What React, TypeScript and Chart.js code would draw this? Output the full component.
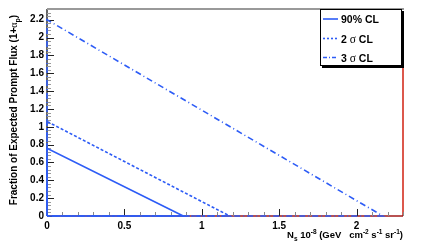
import React, { useEffect, useRef } from 'react';
import { Chart, registerables } from 'chart.js';
Chart.register(...registerables);

// ---- data ----
const seriesLabels = ['90% CL', '2 σ CL', '3 σ CL'];
const yIntercepts = [0.76, 1.06, 2.2]; // value at Ns = 0
const xIntercepts = [0.88, 1.18, 2.17]; // Ns where fraction reaches 0
const xTickValues = [0, 0.5, 1, 1.5, 2];
const yTickValues = [0, 0.2, 0.4, 0.6, 0.8, 1, 1.2, 1.4, 1.6, 1.8, 2, 2.2];
const X_MIN = 0;
const X_MAX = 2.3;
const Y_MIN = 0;
const Y_MAX = 2.32;

const BLUE = '#2d5cf6';
const DASHES: number[][] = [[], [3, 2], [6, 3, 1, 3]];
const LEGEND_DASHES: number[][] = [[], [2, 2], [4, 2, 1, 2]];
const FONT = '"Liberation Sans", Arial, Helvetica, sans-serif';
const SERIF = '"Liberation Serif", "DejaVu Serif", serif';

type Seg = { t: string; font: string; dy?: number };

function drawSegs(ctx: CanvasRenderingContext2D, segs: Seg[], x: number, y: number, align: 'left' | 'center' | 'right') {
  let total = 0;
  for (const s of segs) {
    ctx.font = s.font;
    total += ctx.measureText(s.t).width;
  }
  let cx = align === 'left' ? x : align === 'center' ? x - total / 2 : x - total;
  ctx.textAlign = 'left';
  ctx.textBaseline = 'alphabetic';
  for (const s of segs) {
    ctx.font = s.font;
    ctx.fillText(s.t, cx, y + (s.dy || 0));
    cx += ctx.measureText(s.t).width;
  }
}

const decor = {
  id: 'decor',
  beforeDatasetsDraw(chart: any) {
    const ctx: CanvasRenderingContext2D = chart.ctx;
    const { left, right, top, bottom } = chart.chartArea;
    const xs = chart.scales.x;
    const ys = chart.scales.y;
    ctx.save();
    // top frame
    ctx.strokeStyle = '#999999';
    ctx.lineWidth = 2;
    ctx.beginPath();
    ctx.moveTo(left, top);
    ctx.lineTo(right + 1, top);
    ctx.stroke();
    // right frame (red)
    ctx.strokeStyle = '#d02010';
    ctx.lineWidth = 1.5;
    ctx.beginPath();
    ctx.moveTo(right, top + 4);
    ctx.lineTo(right, bottom);
    ctx.stroke();
    // bottom axis
    ctx.strokeStyle = '#a01818';
    ctx.lineWidth = 1.5;
    ctx.beginPath();
    ctx.moveTo(left, bottom);
    ctx.lineTo(right, bottom);
    ctx.stroke();
    // left axis
    ctx.strokeStyle = '#000000';
    ctx.lineWidth = 1.2;
    ctx.beginPath();
    ctx.moveTo(left, top);
    ctx.lineTo(left, bottom);
    ctx.stroke();

    // y ticks
    for (let i = 0; i <= Math.round((Y_MAX - Y_MIN) / 0.04); i++) {
      const v = Y_MIN + i * 0.04;
      if (v > Y_MAX + 1e-9) break;
      const major = i % 5 === 0;
      const py = Math.round(ys.getPixelForValue(v)) + 0.5;
      ctx.strokeStyle = major ? '#222222' : '#9a9a9a';
      ctx.lineWidth = 1;
      ctx.beginPath();
      ctx.moveTo(left, py);
      ctx.lineTo(left + (major ? 7 : 4), py);
      ctx.stroke();
    }
    // x ticks
    for (let i = 0; i <= Math.round((X_MAX - X_MIN) / 0.1); i++) {
      const v = X_MIN + i * 0.1;
      const major = i % 5 === 0;
      const px = Math.round(xs.getPixelForValue(v)) + 0.5;
      ctx.strokeStyle = major ? '#222222' : '#8a8a8a';
      ctx.lineWidth = 1;
      ctx.beginPath();
      ctx.moveTo(px, bottom);
      ctx.lineTo(px, bottom - (major ? 7 : 4));
      ctx.stroke();
    }
    ctx.restore();
  },
  afterDraw(chart: any) {
    const ctx: CanvasRenderingContext2D = chart.ctx;
    const { right, top, bottom } = chart.chartArea;
    ctx.save();
    // legend box
    const lx = right - 83;
    const ly = top;
    const lw = 82;
    const lh = 57;
    ctx.fillStyle = '#000000';
    ctx.fillRect(lx + 2, ly + 2, lw, lh);
    ctx.fillStyle = '#ffffff';
    ctx.fillRect(lx, ly, lw, lh);
    ctx.strokeStyle = '#000000';
    ctx.lineWidth = 1;
    ctx.strokeRect(lx + 0.5, ly + 0.5, lw - 1, lh - 1);
    const rowOffsets = [10, 29.5, 48.5];
    seriesLabels.forEach((lab, i) => {
      const ry = ly + rowOffsets[i];
      ctx.strokeStyle = BLUE;
      ctx.lineWidth = 1.6;
      ctx.setLineDash(LEGEND_DASHES[i]);
      ctx.beginPath();
      ctx.moveTo(lx + 3, ry);
      ctx.lineTo(lx + 18, ry);
      ctx.stroke();
      ctx.setLineDash([]);
      ctx.fillStyle = '#000000';
      const parts = lab.split('σ');
      const segs: Seg[] =
        parts.length === 2
          ? [
              { t: parts[0], font: `bold 10.5px ${FONT}` },
              { t: 'σ', font: `11.5px ${SERIF}` },
              { t: parts[1], font: `bold 10.5px ${FONT}` },
            ]
          : [{ t: lab, font: `bold 10.5px ${FONT}` }];
      drawSegs(ctx, segs, lx + 21, ry + 4, 'left');
    });

    // y title
    ctx.fillStyle = '#000000';
    ctx.translate(17, 110);
    ctx.rotate(-Math.PI / 2);
    drawSegs(
      ctx,
      [
        { t: 'Fraction of Expected Prompt Flux (1+', font: `bold 10px ${FONT}` },
        { t: 'α', font: `10px ${SERIF}` },
        { t: 'p', font: `bold 7px ${FONT}`, dy: 2.5 },
        { t: ')', font: `bold 10px ${FONT}` },
      ],
      0,
      0,
      'center'
    );
    ctx.setTransform(1, 0, 0, 1, 0, 0);

    // x title
    const b = `bold 9.5px ${FONT}`;
    const s = `bold 6.5px ${FONT}`;
    drawSegs(
      ctx,
      [
        { t: 'N', font: b },
        { t: 's', font: s, dy: 2.5 },
        { t: ' 10', font: b },
        { t: '-8', font: s, dy: -4 },
        { t: ' (GeV   cm', font: b },
        { t: '-2', font: s, dy: -4 },
        { t: ' s', font: b },
        { t: '-1', font: s, dy: -4 },
        { t: ' sr', font: b },
        { t: '-1', font: s, dy: -4 },
        { t: ')', font: b },
      ],
      right,
      bottom + 22,
      'right'
    );
    ctx.restore();
  },
};

function fmt(v: number): string {
  const r = Math.round(v * 100) / 100;
  return String(r);
}

export default function App() {
  const ref = useRef<HTMLCanvasElement | null>(null);
  useEffect(() => {
    document.body.style.margin = '0';
    const canvas = ref.current;
    if (!canvas) return;
    const datasets = seriesLabels.map((label, i) => ({
      label,
      data: [
        { x: 0, y: 0 },
        { x: 0, y: yIntercepts[i] },
        { x: xIntercepts[i], y: 0 },
        { x: 0, y: 0 },
      ],
      borderColor: BLUE,
      backgroundColor: BLUE,
      borderWidth: 1.6,
      borderDash: DASHES[i],
      pointRadius: 0,
      showLine: true,
      fill: false,
      tension: 0,
      clip: 4,
    }));
    const chart = new Chart(canvas, {
      type: 'scatter',
      data: { datasets },
      plugins: [decor],
      options: {
        animation: false,
        responsive: false,
        maintainAspectRatio: false,
        layout: { padding: { left: 0, top: 6, right: 25, bottom: 0 } },
        plugins: { legend: { display: false }, tooltip: { enabled: false } },
        scales: {
          x: {
            type: 'linear',
            min: X_MIN,
            max: X_MAX,
            afterFit: (s: any) => {
              s.height = 31;
            },
            afterBuildTicks: (s: any) => {
              s.ticks = xTickValues.map((v) => ({ value: v }));
            },
            grid: { display: false, drawTicks: false },
            border: { display: false },
            ticks: {
              padding: 4,
              maxRotation: 0,
              autoSkip: false,
              color: '#000',
              font: { family: FONT, size: 10, weight: 'bold' },
              callback: (v: any) => fmt(Number(v)),
            },
          },
          y: {
            type: 'linear',
            min: Y_MIN,
            max: Y_MAX,
            afterFit: (s: any) => {
              s.width = 47;
            },
            afterBuildTicks: (s: any) => {
              s.ticks = yTickValues.map((v) => ({ value: v }));
            },
            grid: { display: false, drawTicks: false },
            border: { display: false },
            ticks: {
              padding: 3,
              autoSkip: false,
              color: '#000',
              font: { family: FONT, size: 10, weight: 'bold' },
              callback: (v: any) => fmt(Number(v)),
            },
          },
        },
      } as any,
    });
    return () => chart.destroy();
  }, []);
  return (
    <div style={{ position: 'absolute', left: 0, top: 0, width: 428, height: 247 }}>
      <canvas ref={ref} width={428} height={247} style={{ width: 428, height: 247, display: 'block' }} />
    </div>
  );
}
